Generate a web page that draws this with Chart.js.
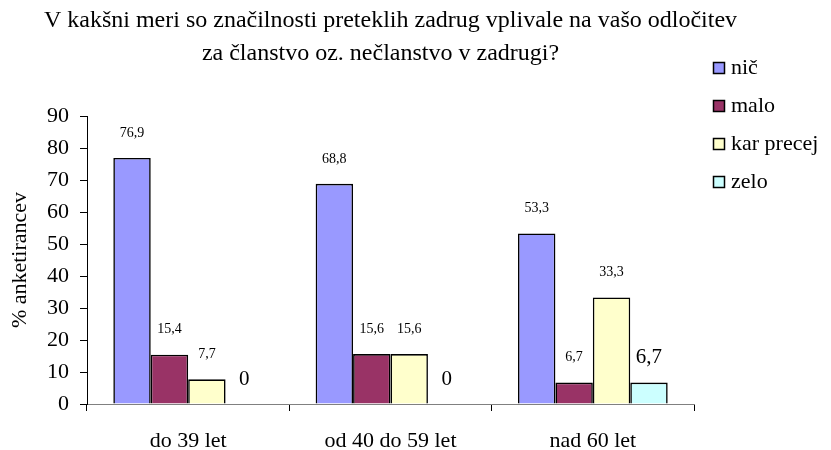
<!DOCTYPE html>
<html>
<head>
<meta charset="utf-8">
<script src="https://cdn.jsdelivr.net/npm/chart.js@4/dist/chart.umd.min.js"></script>
<style>
  html, body { margin:0; padding:0; background:#fff; }
  #wrap { width:831px; height:450px; }
</style>
</head>
<body>
<div id="wrap"><canvas id="c" width="831" height="450"></canvas></div>
<script>
// ── Podatki ────────────────────────────────────────────────
const categories = ['do 39 let', 'od 40 do 59 let', 'nad 60 let'];
const seriesNames = ['nič', 'malo', 'kar precej', 'zelo'];
const nic       = [76.9, 68.8, 53.3];
const malo      = [15.4, 15.6, 6.7];
const karPrecej = [7.7, 15.6, 33.3];
const zelo      = [0, 0, 6.7];
const yTicks    = [0, 10, 20, 30, 40, 50, 60, 70, 80, 90];
const titleLines = [
  'V kakšni meri so značilnosti preteklih zadrug vplivale na vašo odločitev',
  'za članstvo oz. nečlanstvo v zadrugi?'
];

const COLORS = ['#9999FF', '#993366', '#FFFFCC', '#CCFFFF'];
const LABEL_SIZE = [14, 14, 14, 21];
const SERIF = '"Liberation Serif", "DejaVu Serif", serif';

const fmt = v => String(v).replace('.', ',');

// ── Oznake vrednosti nad stolpci ──────────────────────────
const valueLabels = {
  id: 'valueLabels',
  afterDatasetsDraw(chart) {
    const ctx = chart.ctx;
    ctx.save();
    ctx.fillStyle = '#000';
    ctx.textAlign = 'center';
    ctx.textBaseline = 'middle';
    chart.data.datasets.forEach((ds, di) => {
      const meta = chart.getDatasetMeta(di);
      ctx.font = LABEL_SIZE[di] + 'px ' + SERIF;
      meta.data.forEach((bar, i) => {
        ctx.fillText(fmt(ds.data[i]), bar.x, bar.y - 25);
      });
    });
    ctx.restore();
  }
};

// ── Naslov in legenda ─────────────────────────────────────
const titleLegend = {
  id: 'titleLegend',
  afterDraw(chart) {
    const ctx = chart.ctx;
    const a = chart.chartArea;
    ctx.save();
    ctx.fillStyle = '#000';
    ctx.textBaseline = 'middle';
    ctx.textAlign = 'center';
    ctx.font = '24px ' + SERIF;
    const cx = (a.left + a.right) / 2;
    ctx.fillText(titleLines[0], cx, 21);
    ctx.fillText(titleLines[1], cx - 10, 54);

    ctx.textAlign = 'left';
    ctx.font = '22px ' + SERIF;
    chart.data.datasets.forEach((ds, i) => {
      const y = 68 + i * 38;
      ctx.fillStyle = ds.backgroundColor;
      ctx.fillRect(713, y - 6, 12, 12);
      ctx.strokeStyle = '#000';
      ctx.lineWidth = 1.5;
      ctx.strokeRect(713.5, y - 5.5, 11, 11);
      ctx.fillStyle = '#000';
      ctx.fillText(ds.label, 731, y);
    });
    ctx.restore();
  }
};

new Chart(document.getElementById('c'), {
  type: 'bar',
  data: {
    labels: categories,
    datasets: [nic, malo, karPrecej, zelo].map((d, i) => ({
      label: seriesNames[i],
      data: d,
      backgroundColor: COLORS[i],
      borderColor: '#000',
      borderWidth: c => (c.raw === 0 ? 0 : 1.6),
      borderSkipped: 'bottom',
      categoryPercentage: 0.74,
      barPercentage: 1.0,
    }))
  },
  options: {
    responsive: false,
    animation: false,
    devicePixelRatio: 1,
    layout: { padding: { top: 116, right: 137, bottom: 0, left: 0 } },
    plugins: {
      legend: { display: false },
      title: { display: false },
      tooltip: { enabled: false },
    },
    scales: {
      x: {
        offset: true,
        grid: {
          display: true, drawOnChartArea: false, offset: true,
          tickLength: 7, color: '#000', lineWidth: 1,
        },
        border: { display: true, color: '#808080', width: 1 },
        ticks: { color: '#000', font: { family: SERIF, size: 22 }, padding: 17 },
        afterFit: s => { s.height = 46; },
      },
      y: {
        min: 0, max: 90,
        afterBuildTicks: s => { s.ticks = yTicks.map(v => ({ value: v })); },
        grid: {
          display: true, drawOnChartArea: false,
          tickLength: 7, color: '#000', lineWidth: 1,
        },
        border: { display: true, color: '#000', width: 1 },
        ticks: { color: '#000', font: { family: SERIF, size: 22 }, padding: 11 },
        title: {
          display: true, text: '% anketirancev', color: '#000',
          font: { family: SERIF, size: 22 }, padding: { top: 7, bottom: 0 },
        },
        afterFit: s => { s.width = 87; },
      }
    }
  },
  plugins: [valueLabels, titleLegend]
});
</script>
</body>
</html>
